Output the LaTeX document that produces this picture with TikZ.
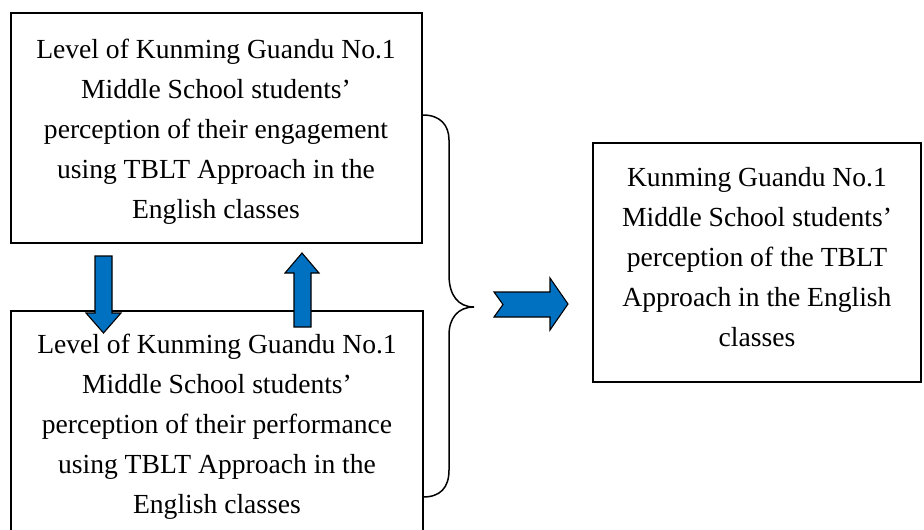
\documentclass[tikz,border=0pt]{standalone}
\usepackage{fontspec}
\setmainfont{Liberation Serif}
\definecolor{arrblue}{HTML}{0070C0}
\begin{document}
\begin{tikzpicture}[x=1pt,y=-1pt,
  boxframe/.style={draw=black,line width=1.4pt},
  boxtext/.style={align=center,inner sep=0pt,font=\fontsize{27.6}{40}\selectfont},
  blockarrow/.style={fill=arrblue,draw=black,line width=1.1pt,line join=miter},
  bracepath/.style={draw=black,line width=1.5pt}]
\useasboundingbox (0,0) rectangle (924,530);
\clip (0,0) rectangle (924,530);
% boxes
\draw[boxframe] (11,13) rectangle (422,243);
\draw[boxframe] (11,311) rectangle (423,540);
\draw[boxframe] (593,143) rectangle (921,382);
\node[boxtext] (t1) at (216,132) {Level of Kunming Guandu No.1\\Middle School students’\\perception of their engagement\\using TBLT Approach in the\\English classes};
\node[boxtext] (t2) at (217,427) {Level of Kunming Guandu No.1\\Middle School students’\\perception of their performance\\using TBLT Approach in the\\English classes};
\node[boxtext] (t3) at (757,257) {Kunming Guandu No.1\\Middle School students’\\perception of the TBLT\\Approach in the English\\classes};
% brace
\coordinate (btop) at (423,115);
\coordinate (btip) at (474,307);
\coordinate (bbot) at (423,497);
\draw[bracepath] (btop) .. controls (440,115) and (449,125) .. (449,140)
  -- (449,275) .. controls (449,295) and (458,307) .. (btip)
  .. controls (458,307) and (449,318) .. (449,335)
  -- (449,470) .. controls (449,488) and (440,497) .. (bbot);
% down arrow
\draw[blockarrow] (95,256) -- (112,256) -- (112,313) -- (121,313) -- (103.5,333) -- (86,313) -- (95,313) -- cycle;
% up arrow
\draw[blockarrow] (294,327) -- (311,327) -- (311,273) -- (319,273) -- (302,253) -- (285,273) -- (294,273) -- cycle;
% chevron arrow
\draw[blockarrow] (494,292) -- (550,292) -- (550,278) -- (568,304) -- (550,330) -- (550,317) -- (494,317) -- (503,304.5) -- cycle;
\end{tikzpicture}
\end{document}
